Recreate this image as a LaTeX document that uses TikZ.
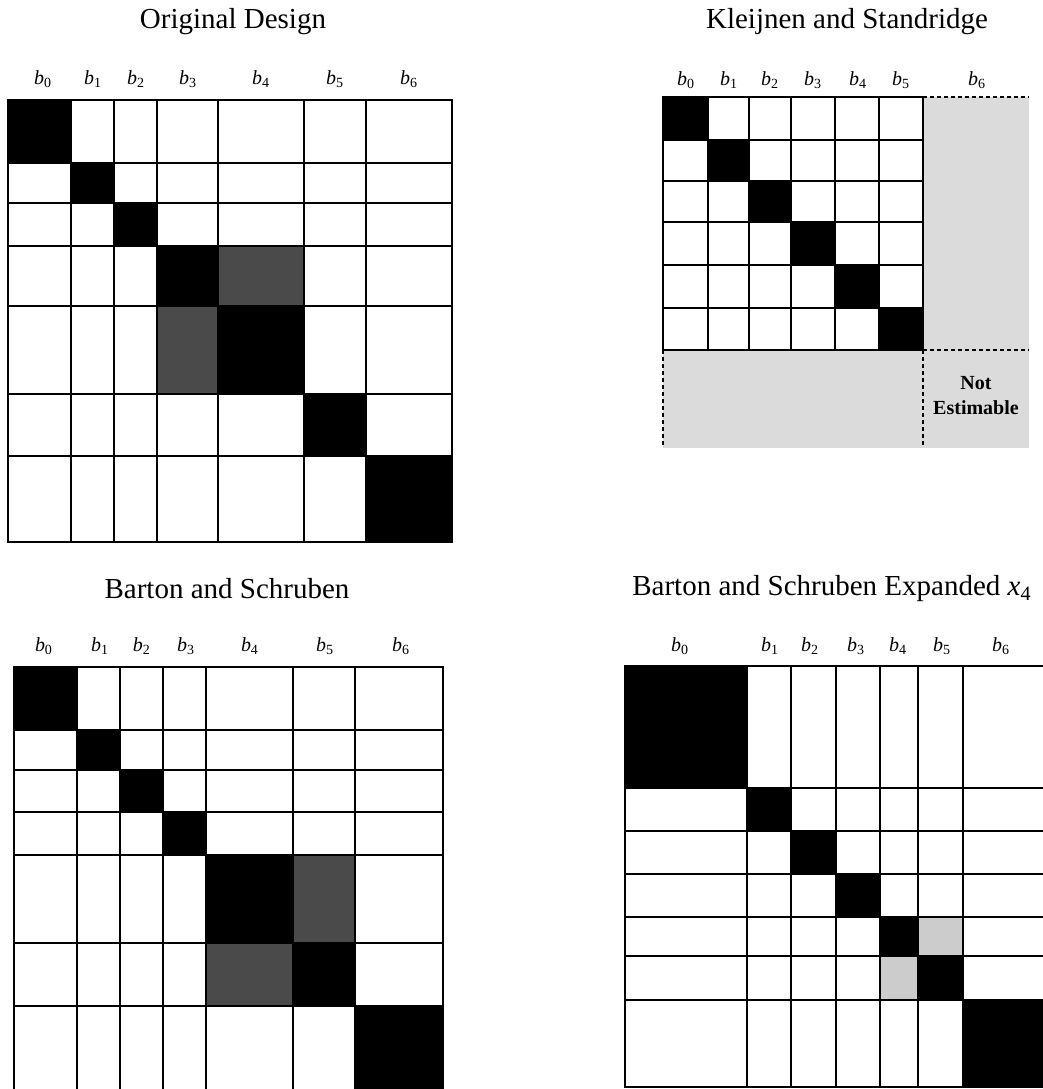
\documentclass[tikz,border=0pt]{standalone}
\usepackage{fontspec}
\setmainfont{Liberation Serif}
\newcommand{\coef}[1]{\textit{b}\textsubscript{#1}}

\begin{document}
\begin{tikzpicture}[x=0.5pt,y=-0.5pt,
  grid/.style={line width=1.2pt,line cap=rect},
  title/.style={font=\fontsize{14.5}{17}\selectfont},
  lbl/.style={font=\fontsize{10}{12.5}\selectfont},
  offdiag/.style={fill=black!71},
  weakdiag/.style={fill=black!20},
  stipple/.style={fill=black!14},
  cut/.style={line width=0.9pt,dash pattern=on 2pt off 1.5pt}]
\useasboundingbox (0,0) rectangle (1043,1089);

% Original Design
\node[title] (orig) at (233,22) {Original Design};
\foreach \xa/\xb/\ya/\yb in {8/71/100/163,71/114/163/203,114/157/203/246,157/218/246/306,218/304/306/394,304/366/394/456,366/452/456/542}
  \fill (\xa,\ya) rectangle (\xb,\yb);
\fill[offdiag] (218,246) rectangle (304,306);
\fill[offdiag] (157,306) rectangle (218,394);
\foreach \x in {8,71,114,157,218,304,366,452} \draw[grid] (\x,100) -- (\x,542);
\foreach \y in {100,163,203,246,306,394,456,542} \draw[grid] (8,\y) -- (452,\y);
\foreach \x [count=\i from 0] in {43,93,136,188,261,335,409}
  \node[lbl] (o\i) at (\x,79) {\coef{\i}};

% Kleijnen and Standridge
\node[title] (klei) at (847,22) {Kleijnen and Standridge};
\fill[stipple] (923,97) rectangle (1029,448);
\fill[stipple] (663,350) rectangle (923,448);
\foreach \xa/\xb/\ya/\yb in {663/708/97/140,708/749/140/181,749/791/181/222,791/835/222/265,835/879/265/308,879/923/308/350}
  \fill (\xa,\ya) rectangle (\xb,\yb);
\foreach \x in {663,708,749,791,835,879,923} \draw[grid] (\x,97) -- (\x,350);
\foreach \y in {97,140,181,222,265,308,350} \draw[grid] (663,\y) -- (923,\y);
\draw[cut] (923,97) -- (1029,97);
\draw[cut] (923,350) -- (1029,350);
\draw[cut] (923,350) -- (923,448);
\draw[cut] (663,350) -- (663,448);
\foreach \x [count=\i from 0] in {686,729,770,813,858,901,977}
  \node[lbl] (k\i) at (\x,80) {\coef{\i}};
\node[lbl,font=\fontsize{10}{12.5}\selectfont\bfseries,align=center] (ne) at (976,396) {Not\\Estimable};

% Barton and Schruben
\node[title] (bart) at (227,589) {Barton and Schruben};
\foreach \xa/\xb/\ya/\yb in {14/77/667/730,77/120/730/770,120/163/770/812,163/206/812/855,206/293/855/943,293/355/943/1006,355/443/1006/1095}
  \fill (\xa,\ya) rectangle (\xb,\yb);
\fill[offdiag] (293,855) rectangle (355,943);
\fill[offdiag] (206,943) rectangle (293,1006);
\foreach \x in {14,77,120,163,206,293,355,443} \draw[grid] (\x,667) -- (\x,1095);
\foreach \y in {667,730,770,812,855,943,1006} \draw[grid] (14,\y) -- (443,\y);
\foreach \x [count=\i from 0] in {44,100,142,186,250,325,401}
  \node[lbl] (s\i) at (\x,646) {\coef{\i}};

% Barton and Schruben Expanded x4
\node[title] (bartx) at (832,589) {Barton and Schruben Expanded \textit{x}\textsubscript{4}};
\foreach \xa/\xb/\ya/\yb in {625/747/666/788,747/791/788/831,791/836/831/874,836/880/874/917,880/918/917/956,918/963/956/1000,963/1060/1000/1087}
  \fill (\xa,\ya) rectangle (\xb,\yb);
\fill[weakdiag] (918,917) rectangle (963,956);
\fill[weakdiag] (880,956) rectangle (918,1000);
\foreach \x in {625,747,791,836,880,918,963} \draw[grid] (\x,666) -- (\x,1087);
\foreach \y in {666,788,831,874,917,956,1000,1087} \draw[grid] (625,\y) -- (1060,\y);
\foreach \x [count=\i from 0] in {680,770,810,856,898,942,1001}
  \node[lbl] (e\i) at (\x,646) {\coef{\i}};
\end{tikzpicture}
\end{document}
